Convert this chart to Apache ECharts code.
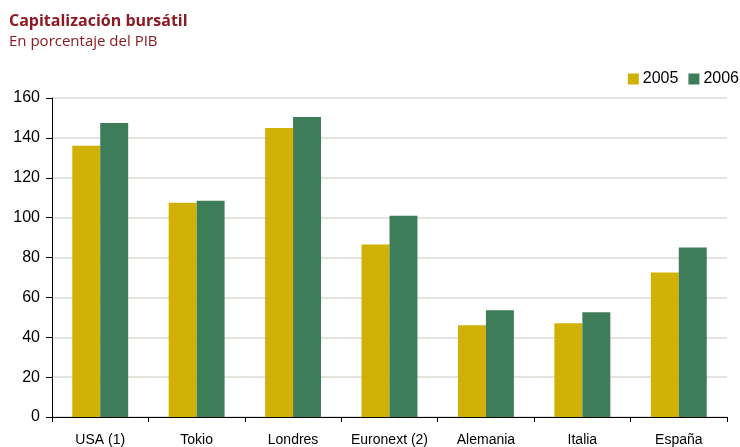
<!DOCTYPE html>
<html>
<head>
<meta charset="utf-8">
<script src="https://cdn.jsdelivr.net/npm/echarts@6/dist/echarts.min.js"></script>
<style>
  html, body { margin: 0; padding: 0; background: #fff; }
  #chart { width: 740px; height: 447px; }
</style>
</head>
<body>
<div id="chart"></div>
<script>
// Market capitalisation as % of GDP
const categories = ['USA (1)', 'Tokio', 'Londres', 'Euronext (2)', 'Alemania', 'Italia', 'España'];
const seriesNames = ['2005', '2006'];
const values2005 = [136, 107.5, 145, 86.5, 46, 47, 72.5];
const values2006 = [147.5, 108.5, 150.5, 101, 53.5, 52.5, 85];
const yTicks = { min: 0, max: 160, interval: 20 };

const colors = ['#D2B107', '#3E7D59'];
const titleColor = '#8B1A22';

const chart = echarts.init(document.getElementById('chart'), null, { renderer: 'canvas' });
chart.setOption({
  animation: false,
  backgroundColor: '#fff',
  title: [
    {
      text: 'Capitalización bursátil',
      left: 9, top: 13, padding: 0,
      textStyle: { fontFamily: 'Open Sans', fontWeight: 'bold', fontSize: 16, color: titleColor }
    },
    {
      text: 'En porcentaje del PIB',
      left: 9, top: 34, padding: 0,
      textStyle: { fontFamily: 'Open Sans', fontWeight: 'normal', fontSize: 15, color: titleColor }
    }
  ],
  legend: {
    data: seriesNames,
    right: 1, top: 71, padding: 0,
    itemWidth: 11, itemHeight: 11, itemGap: 10,
    icon: 'rect',
    textStyle: { fontFamily: 'Liberation Sans', fontSize: 16, color: '#000', padding: [0, 0, 0, -1] }
  },
  grid: { left: 52, right: 13, top: 98, bottom: 29, containLabel: false },
  xAxis: {
    type: 'category',
    data: categories,
    axisLine: { lineStyle: { color: '#000', width: 1 } },
    axisTick: { show: true, alignWithLabel: false, length: 5, lineStyle: { color: '#000' } },
    axisLabel: { interval: 0, fontFamily: 'Liberation Sans', fontSize: 14, color: '#000', margin: 16 }
  },
  yAxis: {
    type: 'value',
    min: yTicks.min, max: yTicks.max, interval: yTicks.interval,
    axisLine: { show: true, lineStyle: { color: '#000', width: 1 } },
    axisTick: { show: true, length: 6, lineStyle: { color: '#000' } },
    axisLabel: { fontFamily: 'Liberation Sans', fontSize: 16, color: '#000', margin: 12 },
    splitLine: { show: true, lineStyle: { color: '#DCDAD3', width: 1.5 } }
  },
  series: [
    {
      name: seriesNames[0], type: 'bar', data: values2005,
      itemStyle: { color: colors[0] },
      barGap: '0%', barCategoryGap: '42%'
    },
    {
      name: seriesNames[1], type: 'bar', data: values2006,
      itemStyle: { color: colors[1] },
      barGap: '0%', barCategoryGap: '42%'
    }
  ]
});
</script>
</body>
</html>
